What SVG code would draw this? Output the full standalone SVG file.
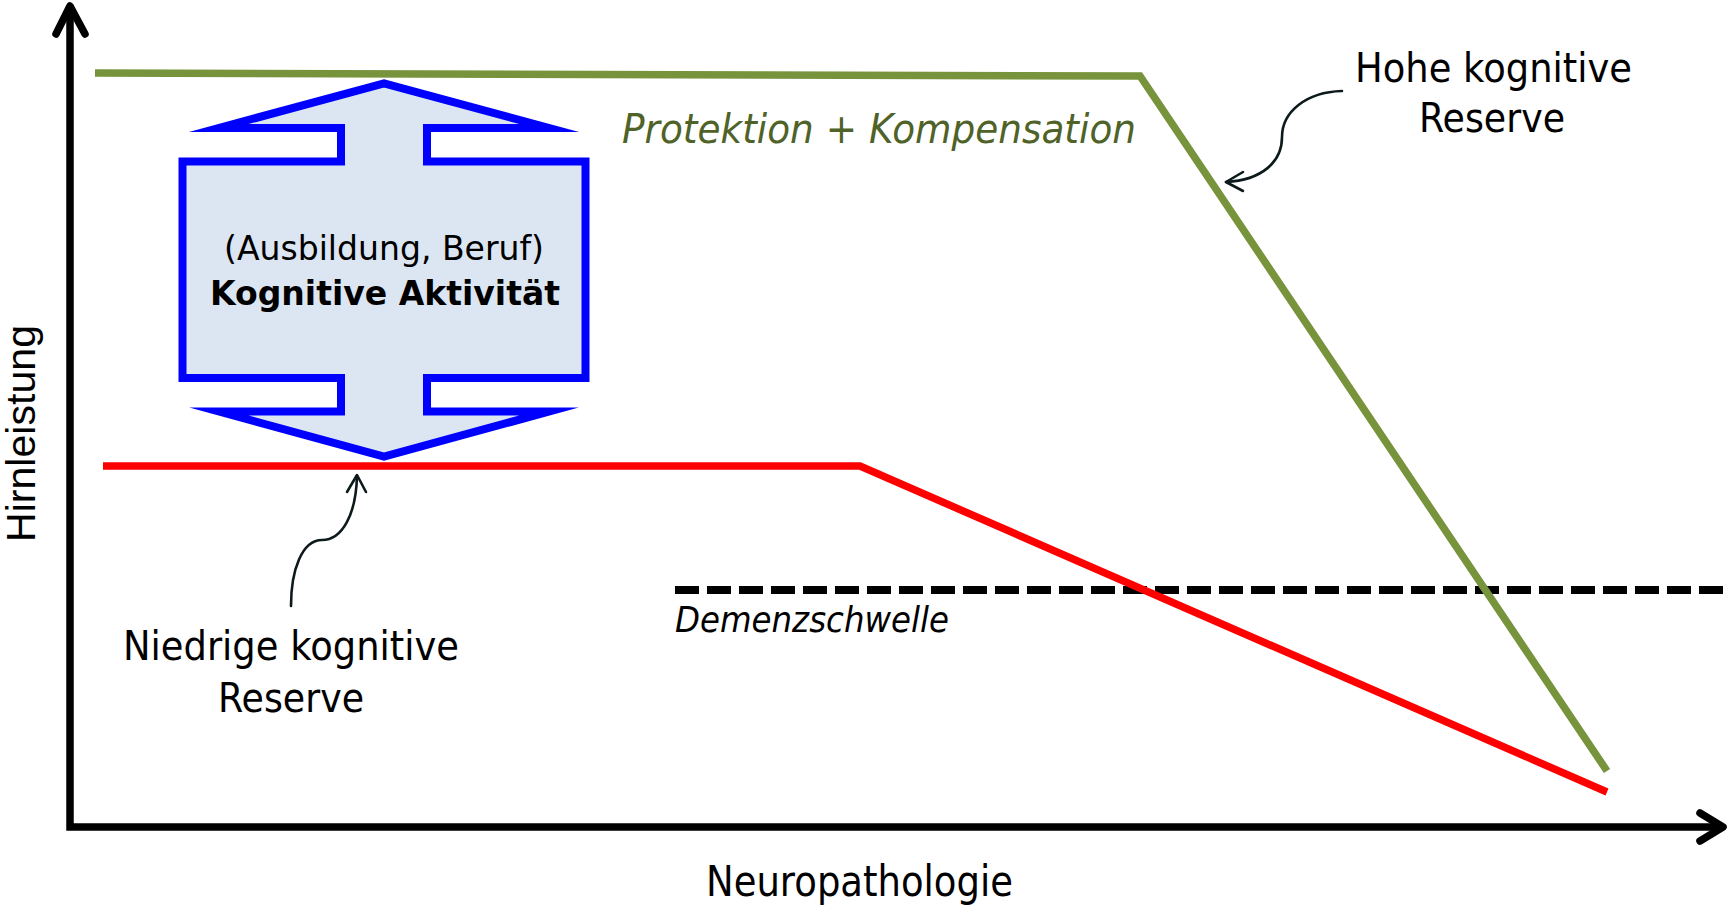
<svg xmlns="http://www.w3.org/2000/svg" width="1729" height="905" viewBox="0 0 1729 905">
<style>
.lbl{font-family:"DejaVu Sans","Liberation Sans",sans-serif;fill:#000;}
.axis{stroke:#000;stroke-width:7.5;fill:none;}
.head{stroke:#000;stroke-width:7.5;fill:none;stroke-linecap:round;stroke-linejoin:round;}
.conn{stroke:#0D1A1C;stroke-width:2.6;fill:none;stroke-linecap:round;stroke-linejoin:round;}
</style>
<rect width="1729" height="905" fill="#fff"/>
<g id="axes">
  <path class="axis" d="M70,10 V827 H1720"/>
  <polyline class="head" points="56,34 70,6 85,34"/>
  <polyline class="head" points="1700,813 1723,827 1700,841"/>
  <text class="lbl" style="font-family:'Liberation Sans',Arial,sans-serif" font-size="41" transform="translate(35,542) rotate(-90)" textLength="217" lengthAdjust="spacingAndGlyphs">Hirnleistung</text>
  <text class="lbl" font-size="42" x="706" y="896" textLength="307" lengthAdjust="spacingAndGlyphs">Neuropathologie</text>
</g>
<g id="threshold">
  <line x1="675" y1="590" x2="1729" y2="590" stroke="#000" stroke-width="8" stroke-dasharray="24 8"/>
  <text class="lbl" font-size="36" font-style="italic" x="675" y="632" textLength="274" lengthAdjust="spacingAndGlyphs">Demenzschwelle</text>
</g>
<g id="high-reserve">
  <polyline points="95,73 1140,76 1607,771" fill="none" stroke="#77933C" stroke-width="7.5" stroke-linejoin="miter"/>
  <text x="622" y="143" font-family="DejaVu Sans, Liberation Sans, sans-serif" font-size="41" font-style="italic" fill="#4F6228" textLength="514" lengthAdjust="spacingAndGlyphs">Protektion + Kompensation</text>
  <text class="lbl" font-size="41" x="1355" y="82" textLength="277" lengthAdjust="spacingAndGlyphs">Hohe kognitive</text>
  <text class="lbl" font-size="41" x="1419" y="132" textLength="146" lengthAdjust="spacingAndGlyphs">Reserve</text>
</g>
<g id="low-reserve">
  <polyline points="103,466 860,466 1607,792" fill="none" stroke="#FF0000" stroke-width="7.5" stroke-linejoin="miter"/>
  <text class="lbl" font-size="41" x="123" y="660" textLength="336" lengthAdjust="spacingAndGlyphs">Niedrige kognitive</text>
  <text class="lbl" font-size="41" x="218" y="712" textLength="146" lengthAdjust="spacingAndGlyphs">Reserve</text>
</g>
<g id="cognitive-activity">
  <polygon points="384,83.3 549,128 427,128 427,161.5 585.5,161.5 585.5,378 427,378 427,411.5 549,411.5 384,456.7 219,411.5 341,411.5 341,378 182.5,378 182.5,161.5 341,161.5 341,128 219,128" fill="#DCE6F2" stroke="#0000FF" stroke-width="8" stroke-linejoin="miter" stroke-miterlimit="20"/>
  <text class="lbl" font-size="34" x="224" y="260" textLength="320" lengthAdjust="spacingAndGlyphs">(Ausbildung, Beruf)</text>
  <text class="lbl" font-size="34" font-weight="bold" x="210" y="305" textLength="350" lengthAdjust="spacingAndGlyphs">Kognitive Aktivität</text>
</g>
<g id="connectors">
  <path class="conn" d="M1342,91 C1306,92 1282,112 1282,137 C1282,162 1262,180 1226,182"/>
  <polyline class="conn" points="1243,172 1226,182 1243,191"/>
  <path class="conn" d="M291,606 C291,570 302,540 322,540 C342,540 356,515 357,476"/>
  <polyline class="conn" points="347,492 357,475 366,492"/>
</g>
</svg>
